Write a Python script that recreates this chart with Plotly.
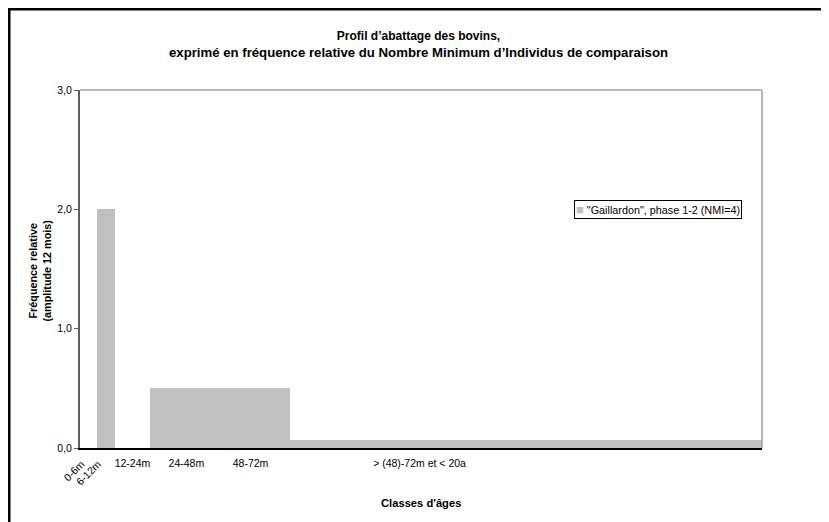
import plotly.graph_objects as go

# classes d'âges en mois (bornes) et fréquence relative
class_start = [0, 6, 12, 24, 48, 72]
class_end = [6, 12, 24, 48, 72, 234]
freq = [0, 2.0, 0, 0.5, 0.5, 0.07]

serie_name = '"Gaillardon", phase 1-2 (NMI=4)'

# libellés horizontaux
tick_pos = [18, 36.5, 58.5, 116.5]
tick_text = ['12-24m', '24-48m', '48-72m', '> (48)-72m et < 20a']
# libellés inclinés
tick_pos_rot = [0.5, 6.2]
tick_text_rot = ['0-6m', '6-12m']

font_fam = 'Liberation Sans, Arial, sans-serif'
bar_color = '#C0C0C0'

centers = [(a + b) / 2 for a, b in zip(class_start, class_end)]
widths = [b - a for a, b in zip(class_start, class_end)]

fig = go.Figure()
fig.add_trace(go.Bar(x=centers, y=freq, width=widths, name=serie_name,
                     marker=dict(color=bar_color, line=dict(width=0)),
                     showlegend=False, hoverinfo='skip'))
fig.add_trace(go.Scatter(x=tick_pos_rot, y=[0, 0], xaxis='x2', mode='markers',
                         marker=dict(opacity=0), showlegend=False, hoverinfo='skip'))

# la page a une marge de 8px : on décale la figure d'autant
fig.update_layout(
    width=821, height=514,
    margin=dict(l=72, t=82, r=67, b=74),
    paper_bgcolor='white', plot_bgcolor='white',
    font=dict(family=font_fam, color='black', size=10),
    separators=', ',
    bargap=0,
    title=dict(text='<b><span style="font-size:12px">Profil d’abattage des bovins,</span><br>'
                    'exprimé en fréquence relative du Nombre Minimum d’Individus de comparaison</b>',
               x=410.5 / 821, xanchor='center', y=1 - 32 / 514, yanchor='middle',
               font=dict(size=13.2, family=font_fam, color='black')),
    xaxis=dict(range=[0, 234], tickmode='array', tickvals=tick_pos, ticktext=tick_text,
               tickangle=0, ticks='', showgrid=False, zeroline=False,
               showline=True, linecolor='black', linewidth=2, ticklabelstandoff=4,
               tickfont=dict(size=10.5), fixedrange=True),
    xaxis2=dict(range=[0, 234], overlaying='x', anchor='y', side='bottom',
                tickmode='array', tickvals=tick_pos_rot, ticktext=tick_text_rot,
                tickangle=-45, ticks='', showgrid=False, zeroline=False, showline=False,
                ticklabelstandoff=7, tickfont=dict(size=10.5)),
    yaxis=dict(range=[0, 3], tickvals=[0, 1, 2, 3], tickformat='.1f',
               ticks='outside', ticklen=4, tickcolor='#606060', tickwidth=1,
               showline=True, linecolor='#606060', linewidth=2,
               showgrid=False, zeroline=False, tickfont=dict(size=10.5)),
    shapes=[
        # bord du cadre du graphique (haut et droite)
        dict(type='line', xref='paper', yref='paper', x0=0, x1=1, y0=1, y1=1,
             line=dict(color='#A0A0A0', width=1.5)),
        dict(type='line', xref='paper', yref='paper', x0=1, x1=1, y0=0, y1=1,
             line=dict(color='#A0A0A0', width=1.5)),
        # cadre extérieur
        dict(type='rect', xref='paper', yref='paper',
             x0=(9 - 80) / 682, x1=1.3, y0=-0.4, y1=1 + (90 - 9) / 358,
             line=dict(color='black', width=3)),
    ],
    annotations=[
        # légende
        dict(text=f'<span style="color:{bar_color};font-size:13px">■</span> {serie_name}',
             xref='paper', yref='paper', x=(742 - 80) / 682, y=(448 - 209.5) / 358,
             xanchor='right', yanchor='middle', showarrow=False,
             bordercolor='black', borderwidth=1, borderpad=1, bgcolor='white',
             font=dict(size=10.8, family=font_fam)),
        dict(text='<b>Fréquence relative<br>(amplitude 12 mois)</b>', textangle=-90,
             xref='paper', yref='paper', x=(39.5 - 80) / 682, y=(448 - 271) / 358,
             xanchor='center', yanchor='middle', showarrow=False,
             font=dict(size=10.8, family=font_fam)),
        dict(text="<b>Classes d'âges</b>", xref='paper', yref='paper',
             x=(421 - 80) / 682, y=-(503 - 448) / 358, xanchor='center', yanchor='middle',
             showarrow=False, font=dict(size=11.2, family=font_fam)),
    ],
)

fig.write_html('out.html')
